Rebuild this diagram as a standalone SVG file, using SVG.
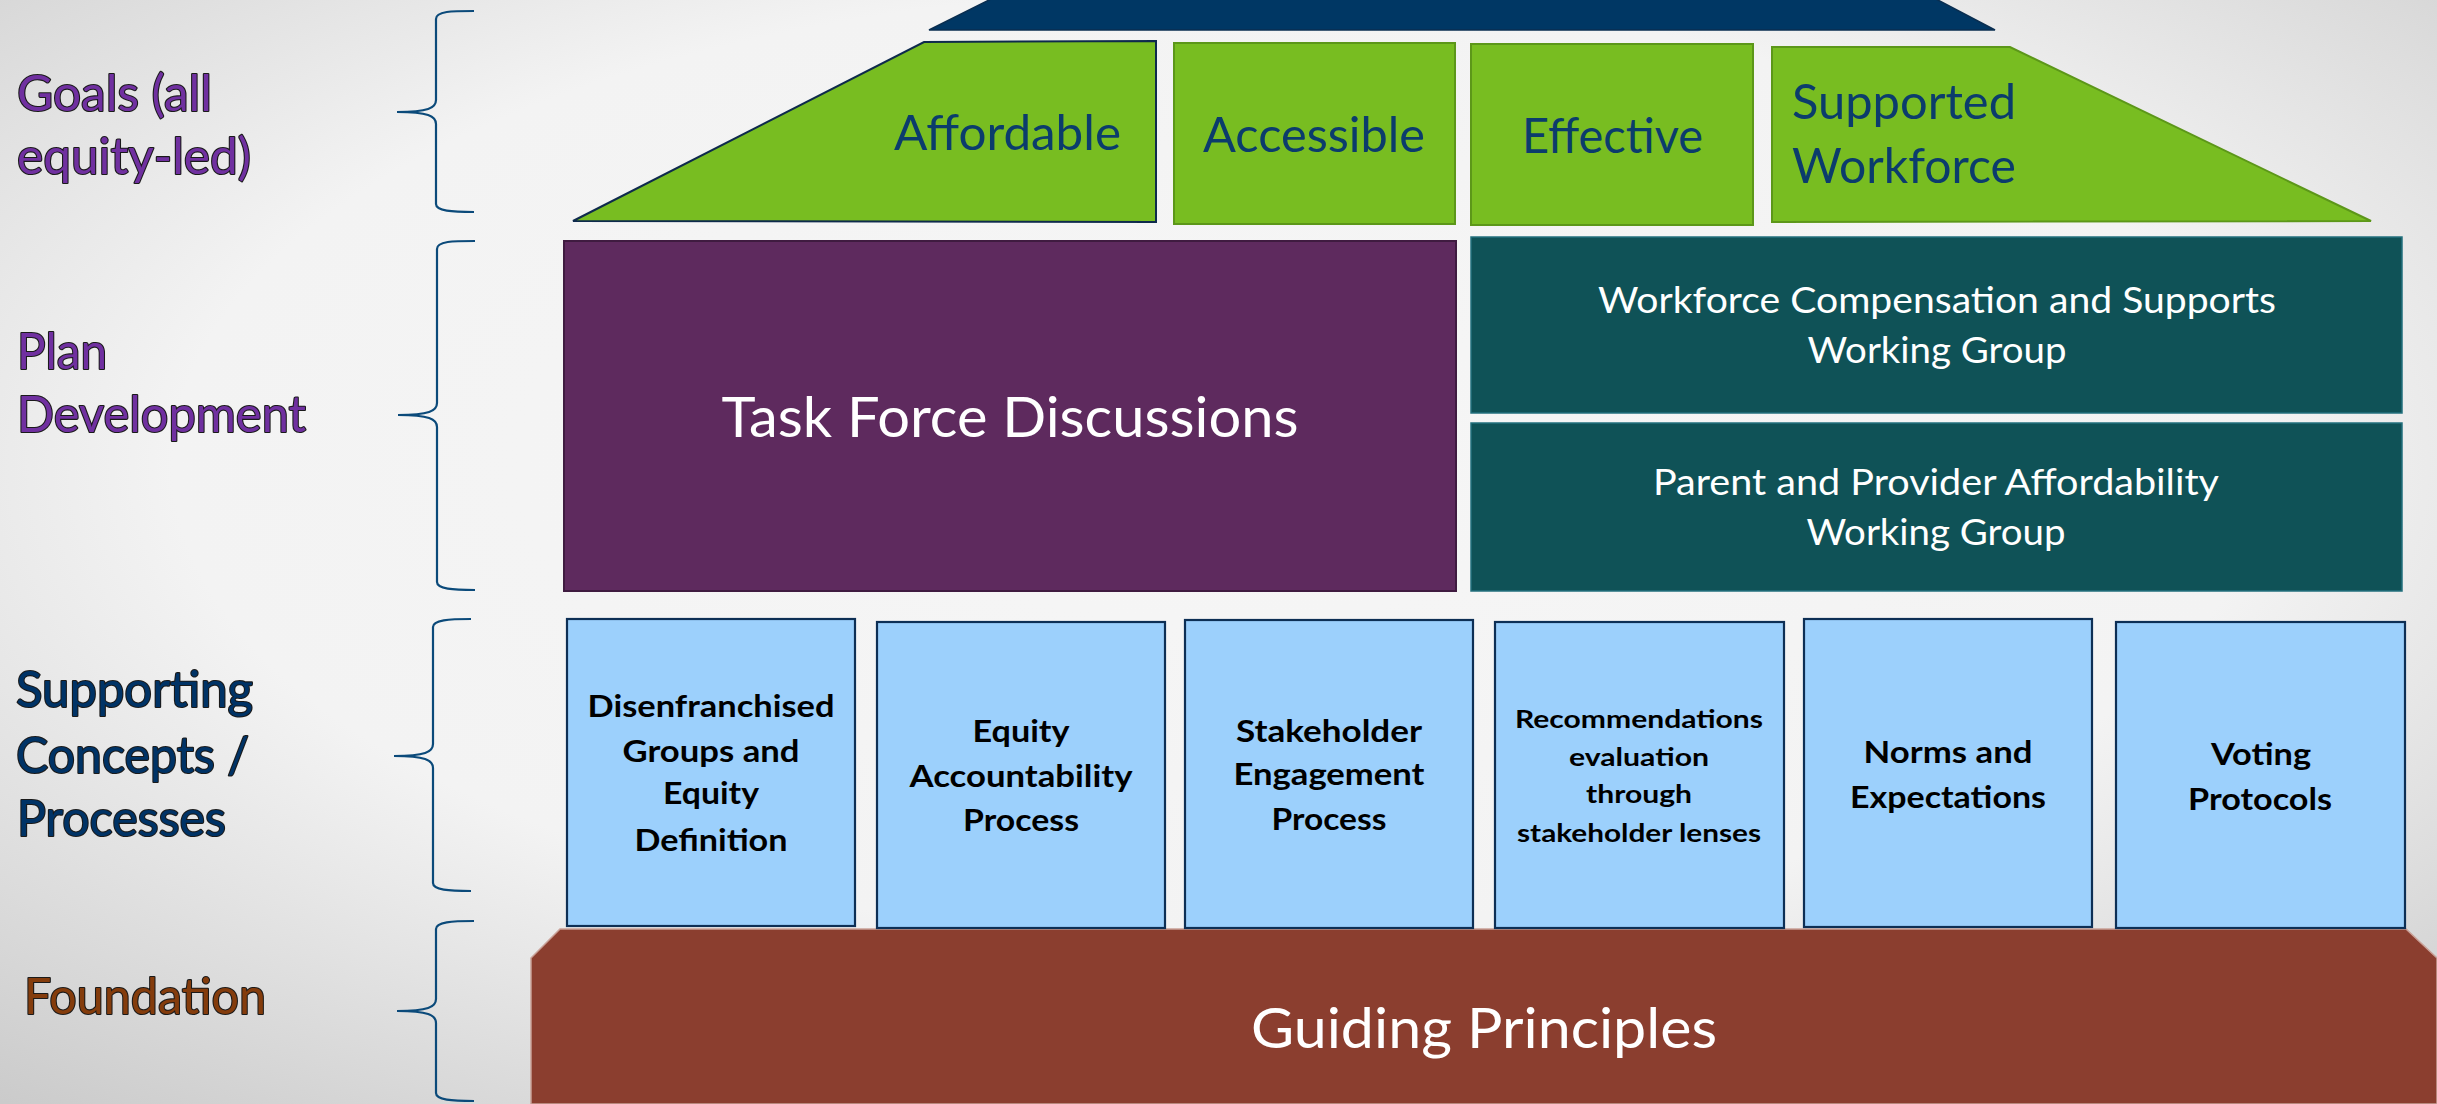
<svg xmlns="http://www.w3.org/2000/svg" width="2437" height="1104" viewBox="0 0 2437 1104">
<defs>
<radialGradient id="bg" cx="0.5" cy="0.42" r="0.78">
<stop offset="0" stop-color="#F6F6F6"/>
<stop offset="0.55" stop-color="#F3F3F3"/>
<stop offset="1" stop-color="#C9C9C9"/>
</radialGradient>
<style>
text{font-family:Lato,"Liberation Sans",sans-serif}
.lbl{font-size:50px;paint-order:stroke;stroke:#1a1a1a;stroke-width:2.2px;stroke-linejoin:round}
.purple{fill:#7030A0}
.navy{fill:#003366}
.brown{fill:#843C0C}
.goal{font-size:48px;fill:#0B3C6C}
.wt{fill:#FFFFFF;text-anchor:middle}
.bx{font-weight:700;font-size:30px;fill:#000;text-anchor:middle}
.bx4{font-weight:700;font-size:24px;fill:#000;text-anchor:middle}
.brace{fill:none;stroke:#0B4A7A;stroke-width:2.2}
.gbox{fill:#78BD21;stroke:#5C9719;stroke-width:2}
.blue{fill:#9CD0FC;stroke:#0D2F55;stroke-width:2.2}
.wg{fill:#0F5257;stroke:#23707E;stroke-width:1.5}
</style>
</defs>
<rect x="0" y="0" width="2437" height="1104" fill="url(#bg)"/>

<g id="brackets">
<path class="brace" d="M474,11 C452,11 436,11 436,19 L436,100 C436,108 428,112 397,112 C428,112 436,116 436,124 L436,204 C436,211 452,212 474,212"/>
<path class="brace" d="M475,241 C453,241 437,241 437,249 L437,403 C437,411 429,415 398,415 C429,415 437,419 437,427 L437,582 C437,589 453,590 475,590"/>
<path class="brace" d="M471,619 C449,619 433,620 433,627 L433,744 C433,752 425,756 394,756 C425,756 433,760 433,768 L433,883 C433,890 449,891 471,891"/>
<path class="brace" d="M474,921 C452,921 436,922 436,929 L436,999 C436,1007 428,1011 397,1011 C428,1011 436,1015 436,1023 L436,1093 C436,1100 452,1101 474,1101"/>
</g>

<g id="level-labels">
<g id="label-goals">
<text class="lbl purple" x="17" y="111" textLength="195" lengthAdjust="spacingAndGlyphs">Goals (all</text>
<text class="lbl purple" x="17" y="174" textLength="234" lengthAdjust="spacingAndGlyphs">equity-led)</text>
</g>
<g id="label-plan">
<text class="lbl purple" x="17" y="369" textLength="90" lengthAdjust="spacingAndGlyphs">Plan</text>
<text class="lbl purple" x="17" y="432" textLength="289" lengthAdjust="spacingAndGlyphs">Development</text>
</g>
<g id="label-supporting">
<text class="lbl navy" x="16" y="707" textLength="237" lengthAdjust="spacingAndGlyphs">Supporting</text>
<text class="lbl navy" x="16" y="773" textLength="233" lengthAdjust="spacingAndGlyphs">Concepts /</text>
<text class="lbl navy" x="17" y="836" textLength="209" lengthAdjust="spacingAndGlyphs">Processes</text>
</g>
<g id="label-foundation">
<text class="lbl brown" x="24" y="1014" textLength="242" lengthAdjust="spacingAndGlyphs">Foundation</text>
</g>
</g>

<g id="roof">
<polygon points="929,30 991,-1 1936,-1 1995,30" fill="#003764" stroke="#0A2E50" stroke-width="1.5"/>
</g>

<g id="goal-affordable">
<polygon points="924,42 1156,41 1156,222 573,221" fill="#78BD21" stroke="#0E2A4C" stroke-width="2"/>
<text class="goal" x="894" y="150" textLength="227" lengthAdjust="spacingAndGlyphs">Affordable</text>
</g>
<g id="goal-accessible">
<rect class="gbox" x="1174" y="43" width="281" height="181"/>
<text class="goal" x="1203" y="152" textLength="222" lengthAdjust="spacingAndGlyphs">Accessible</text>
</g>
<g id="goal-effective">
<rect class="gbox" x="1471" y="44" width="282" height="181"/>
<text class="goal" x="1522" y="153" textLength="181" lengthAdjust="spacingAndGlyphs">Effective</text>
</g>
<g id="goal-workforce">
<polygon class="gbox" points="1772,47 2010,47 2371,221 1772,222"/>
<text class="goal" x="1792" y="119" textLength="224" lengthAdjust="spacingAndGlyphs">Supported</text>
<text class="goal" x="1792" y="183" textLength="224" lengthAdjust="spacingAndGlyphs">Workforce</text>
</g>

<g id="task-force">
<rect x="564" y="241" width="892" height="350" fill="#5E2A5E" stroke="#3F1B40" stroke-width="2"/>
<text class="wt" x="1010" y="437" font-size="56" textLength="577" lengthAdjust="spacingAndGlyphs">Task Force Discussions</text>
</g>
<g id="wg-workforce">
<rect class="wg" x="1471" y="237" width="931" height="176"/>
<text class="wt" x="1937" y="313" font-size="37" textLength="678" lengthAdjust="spacingAndGlyphs">Workforce Compensation and Supports</text>
<text class="wt" x="1937" y="363" font-size="37" textLength="259" lengthAdjust="spacingAndGlyphs">Working Group</text>
</g>
<g id="wg-affordability">
<rect class="wg" x="1471" y="423" width="931" height="168"/>
<text class="wt" x="1936" y="495" font-size="37" textLength="566" lengthAdjust="spacingAndGlyphs">Parent and Provider Affordability</text>
<text class="wt" x="1936" y="545" font-size="37" textLength="259" lengthAdjust="spacingAndGlyphs">Working Group</text>
</g>

<g id="foundation">
<polygon points="560,929 2406,929 2437,958 2437,1104 531,1104 531,958" fill="#8B3E2F" stroke="#C9A198" stroke-width="1.5"/>
<text class="wt" x="1484" y="1048" font-size="57" textLength="466" lengthAdjust="spacingAndGlyphs">Guiding Principles</text>
</g>

<g id="concept-disenfranchised">
<rect class="blue" x="567" y="619" width="288" height="307"/>
<text class="bx" x="711" y="717" textLength="247" lengthAdjust="spacingAndGlyphs">Disenfranchised</text>
<text class="bx" x="711" y="762" textLength="177" lengthAdjust="spacingAndGlyphs">Groups and</text>
<text class="bx" x="711" y="804" textLength="96" lengthAdjust="spacingAndGlyphs">Equity</text>
<text class="bx" x="711" y="851" textLength="153" lengthAdjust="spacingAndGlyphs">Definition</text>
</g>
<g id="concept-equity">
<rect class="blue" x="877" y="622" width="288" height="306"/>
<text class="bx" x="1021" y="742" textLength="97" lengthAdjust="spacingAndGlyphs">Equity</text>
<text class="bx" x="1021" y="787" textLength="223" lengthAdjust="spacingAndGlyphs">Accountability</text>
<text class="bx" x="1021" y="831" textLength="116" lengthAdjust="spacingAndGlyphs">Process</text>
</g>
<g id="concept-stakeholder">
<rect class="blue" x="1185" y="620" width="288" height="308"/>
<text class="bx" x="1329" y="742" textLength="186" lengthAdjust="spacingAndGlyphs">Stakeholder</text>
<text class="bx" x="1329" y="785" textLength="191" lengthAdjust="spacingAndGlyphs">Engagement</text>
<text class="bx" x="1329" y="830" textLength="115" lengthAdjust="spacingAndGlyphs">Process</text>
</g>
<g id="concept-recommendations">
<rect class="blue" x="1495" y="622" width="289" height="306"/>
<text class="bx4" x="1639" y="728" textLength="248" lengthAdjust="spacingAndGlyphs">Recommendations</text>
<text class="bx4" x="1639" y="766" textLength="140" lengthAdjust="spacingAndGlyphs">evaluation</text>
<text class="bx4" x="1639" y="803" textLength="106" lengthAdjust="spacingAndGlyphs">through</text>
<text class="bx4" x="1639" y="842" textLength="244" lengthAdjust="spacingAndGlyphs">stakeholder lenses</text>
</g>
<g id="concept-norms">
<rect class="blue" x="1804" y="619" width="288" height="308"/>
<text class="bx" x="1948" y="763" textLength="169" lengthAdjust="spacingAndGlyphs">Norms and</text>
<text class="bx" x="1948" y="808" textLength="196" lengthAdjust="spacingAndGlyphs">Expectations</text>
</g>
<g id="concept-voting">
<rect class="blue" x="2116" y="622" width="289" height="306"/>
<text class="bx" x="2261" y="765" textLength="100" lengthAdjust="spacingAndGlyphs">Voting</text>
<text class="bx" x="2260" y="810" textLength="144" lengthAdjust="spacingAndGlyphs">Protocols</text>
</g>
</svg>
